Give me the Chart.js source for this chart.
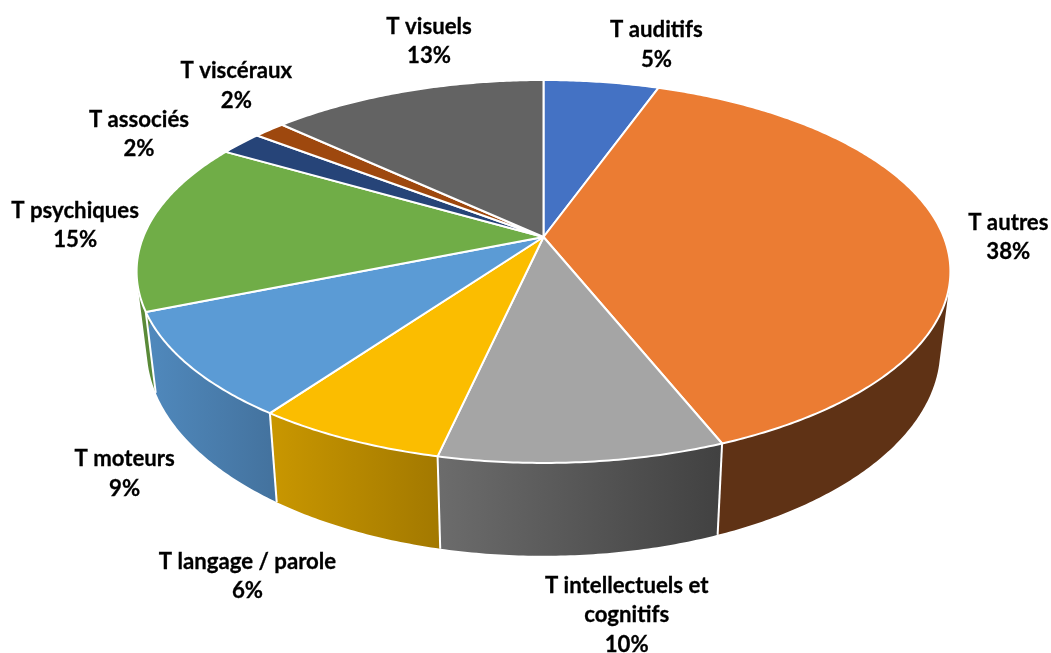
<!DOCTYPE html>
<html lang="fr">
<head>
<meta charset="utf-8">
<style>html,body{margin:0;padding:0;background:#fff}canvas{display:block}</style>
<script src="https://cdn.jsdelivr.net/npm/chart.js@4"></script>
</head>
<body>
<canvas id="c" width="1051" height="653"></canvas>
<script>
// Data
const categories = [["T auditifs"],["T autres"],["T intellectuels et","cognitifs"],["T langage / parole"],["T moteurs"],["T psychiques"],["T associés"],["T viscéraux"],["T visuels"]];
const values = [5.45,38.49,9.56,6.42,8.93,14.5,2.05,1.5,13.1];
// Style
const topColors = ["#4472c4","#eb7c33","#a5a5a5","#fbbd00","#5b9bd5","#70ad47","#264478","#9e480e","#636363"];
const wallLeft = ["#2f4f88","#5f3215","#6c6c6c","#c99700","#5089bd","#5b8c39","#1a2f54","#6e320a","#454545"];
const wallRight = ["#2f4f88","#5f3215","#414141","#a37900","#44739f","#4f7a30","#1a2f54","#6e320a","#454545"];
const labelShift = [[55,-37],[66,4],[44,153],[-100,137],[-65,108],[-74,1],[-102,-9],[-33,-44],[23,-50]];

// Perspective of the disc, expressed relative to the radius the pie controller computes
const TILT = -0.18, AX = 1.696, BY = 0.785, AX_LOW = 0.975, DROP_LOW = 0.318, BY_LOW = 0.847;
function project(el, ang, low){
  const X = Math.cos(ang), Y = Math.sin(ang), R = el.outerRadius, d = 1 + TILT * Y, v = Y / d;
  if (low) return [el.x + R*AX*AX_LOW*X/d, el.y + R*DROP_LOW + R*BY_LOW*v];
  return [el.x + R*AX*X/d, el.y + R*BY*v];
}
function rim(el, a0, a1, low, cb){
  const n = Math.max(2, Math.ceil(Math.abs(a1-a0)/0.01));
  for (let i=0;i<=n;i++){ const p = project(el, a0+(a1-a0)*i/n, low); cb(p[0],p[1]); }
}
// Arc elements keep the geometry from the pie controller and paint it through the projection
Chart.ArcElement.prototype.draw = function(ctx){
  const o = this.options;
  ctx.save();
  ctx.beginPath();
  ctx.moveTo(this.x, this.y);
  rim(this, this.startAngle, this.endAngle, false, (x,y)=>ctx.lineTo(x,y));
  ctx.closePath();
  ctx.fillStyle = o.backgroundColor;
  ctx.fill();
  ctx.lineWidth = o.borderWidth;
  ctx.strokeStyle = o.borderColor;
  ctx.lineJoin = 'round';
  ctx.stroke();
  ctx.restore();
};
const walls = {
  id:'walls',
  beforeDatasetsDraw(chart){
    const ctx = chart.ctx, arcs = chart.getDatasetMeta(0).data;
    arcs.forEach((el,i)=>{
      const up = [], lo = [];
      rim(el, el.startAngle, el.endAngle, false, (x,y)=>up.push([x,y]));
      rim(el, el.startAngle, el.endAngle, true, (x,y)=>lo.push([x,y]));
      const xs = up.map(p=>p[0]);
      const g = ctx.createLinearGradient(Math.min(...xs),0,Math.max(...xs),0);
      g.addColorStop(0,wallLeft[i]); g.addColorStop(1,wallRight[i]);
      ctx.fillStyle = g;
      // one path holding every segment of the wall, so the sweep is filled without seams
      ctx.beginPath();
      for (let k=0;k<up.length-1;k++){
        const cross = (up[k+1][0]-up[k][0])*(lo[k][1]-up[k][1])-(up[k+1][1]-up[k][1])*(lo[k][0]-up[k][0]);
        const q = [up[k],up[k+1],lo[k+1],lo[k]];
        if (cross < 0) q.reverse();
        ctx.moveTo(q[0][0],q[0][1]);
        ctx.lineTo(q[1][0],q[1][1]); ctx.lineTo(q[2][0],q[2][1]); ctx.lineTo(q[3][0],q[3][1]);
        ctx.closePath();
      }
      ctx.fill('nonzero');
    });
    ctx.strokeStyle = '#ffffff'; ctx.lineWidth = 2;
    arcs.forEach(el=>{
      const a = project(el, el.startAngle, false), b = project(el, el.startAngle, true);
      if (Math.sin(el.startAngle) > -0.1){
        ctx.beginPath(); ctx.moveTo(a[0],a[1]); ctx.lineTo(b[0],b[1]); ctx.stroke();
      }
    });
  }
};
const sliceLabels = {
  id:'sliceLabels',
  afterDatasetsDraw(chart){
    const ctx = chart.ctx, arcs = chart.getDatasetMeta(0).data;
    ctx.save();
    ctx.font = 'bold 22.2px Lato';
    ctx.fillStyle = '#000';
    ctx.strokeStyle = '#000';
    ctx.lineWidth = 0.3;
    ctx.textAlign = 'center';
    ctx.textBaseline = 'middle';
    arcs.forEach((el,i)=>{
      const p = project(el, (el.startAngle+el.endAngle)/2, false);
      const lines = categories[i].concat([Math.round(values[i])+'%']);
      const x = p[0]+labelShift[i][0], y = p[1]+labelShift[i][1];
      lines.forEach((t,k)=>{
        const ty = y+(k-(lines.length-1)/2)*29.5;
        ctx.fillText(t, x, ty); ctx.strokeText(t, x, ty);
      });
    });
    ctx.restore();
  }
};
new Chart(document.getElementById('c'),{
  type:'pie',
  data:{labels:categories.map(l=>l.join(' ')),datasets:[{data:values,backgroundColor:topColors,borderColor:'#ffffff',borderWidth:2}]},
  options:{
    responsive:false,animation:false,
    layout:{padding:{left:36,right:0,top:0,bottom:179}},
    plugins:{legend:{display:false},tooltip:{enabled:false}}
  },
  plugins:[walls,sliceLabels]
});
</script>
</body>
</html>
